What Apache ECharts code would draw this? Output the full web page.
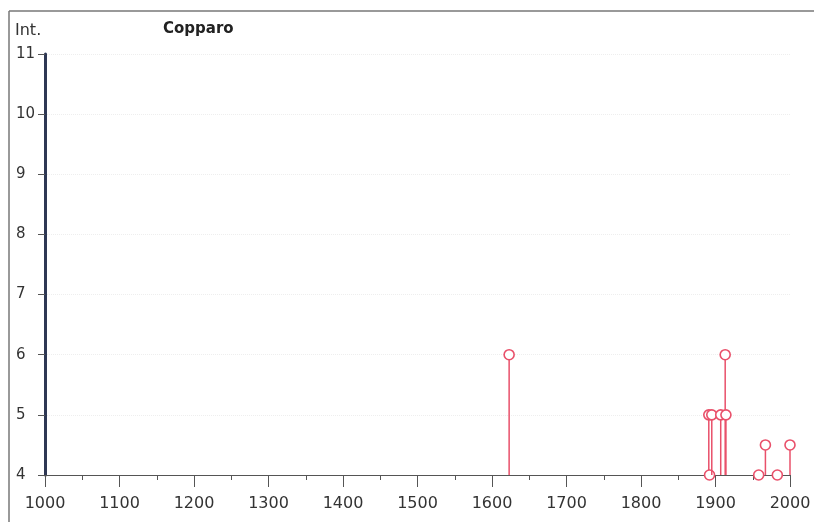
<!DOCTYPE html>
<html>
<head>
<meta charset="utf-8">
<script src="https://cdn.jsdelivr.net/npm/echarts@6/dist/echarts.min.js"></script>
<style>
  html, body { margin: 0; padding: 0; background: #fff; }
  #chart { width: 814px; height: 522px; }
</style>
</head>
<body>
<div id="chart"></div>
<script>
// anni degli eventi e intensità risentite a Copparo
const years = [1623, 1891, 1892, 1895, 1907, 1913, 1914, 1958, 1967, 1983, 2000];
const intensities = [6, 5, 4, 5, 5, 6, 5, 4, 4.5, 4, 4.5];
const yTicks = [4, 5, 6, 7, 8, 9, 10, 11];

const red = "#e9506a";
const chart = echarts.init(document.getElementById("chart"));

chart.setOption({
  animation: false,
  textStyle: { fontFamily: "DejaVu Sans" },
  grid: { left: 45, right: 24, top: 54, bottom: 47 },
  graphic: [
    { type: "line", shape: { x1: 9, y1: 11, x2: 814, y2: 11 }, style: { stroke: "#777", lineWidth: 1.5 } },
    { type: "line", shape: { x1: 9, y1: 11, x2: 9, y2: 522 }, style: { stroke: "#777", lineWidth: 1.5 } },
    { type: "text", left: 15, top: 23, style: { text: "Int.", font: "16px DejaVu Sans", fill: "#333" } },
    { type: "text", left: 163, top: 22, style: { text: "Copparo", font: "bold 15px DejaVu Sans", fill: "#222" } },
  ],
  xAxis: {
    type: "value",
    min: 1000,
    max: 2000,
    interval: 100,
    axisLine: { show: true, onZero: false, lineStyle: { color: "#555", width: 1 } },
    axisTick: { show: true, length: 12, lineStyle: { color: "#555" } },
    minorTick: { show: true, splitNumber: 2, length: 5, lineStyle: { color: "#555" } },
    axisLabel: { color: "#333", fontSize: 16, margin: 21, formatter: (v) => String(v) },
    splitLine: { show: false },
  },
  yAxis: {
    type: "value",
    min: yTicks[0],
    max: yTicks[yTicks.length - 1],
    interval: 1,
    axisLine: { show: true, onZero: false, lineStyle: { color: "#2e3854", width: 3 } },
    axisTick: { show: true, length: 7, lineStyle: { color: "#555" } },
    axisLabel: { color: "#333", fontSize: 15, margin: 29, align: "left" },
    splitLine: { show: true, lineStyle: { color: "#eeeeee", type: "dotted" } },
  },
  series: [
    {
      type: "custom",
      data: years.map((y, i) => [y, intensities[i]]),
      renderItem: function (params, api) {
        const top = api.coord([api.value(0), api.value(1)]);
        const base = api.coord([api.value(0), yTicks[0]]);
        const r = 5;
        return {
          type: "group",
          children: [
            {
              type: "line",
              shape: { x1: top[0], y1: base[1], x2: top[0], y2: top[1] + r },
              style: { stroke: red, lineWidth: 1.5 },
            },
            {
              type: "circle",
              shape: { cx: top[0], cy: top[1], r: r },
              style: { fill: "#fff", stroke: red, lineWidth: 1.6 },
            },
          ],
        };
      },
    },
  ],
});
</script>
</body>
</html>
